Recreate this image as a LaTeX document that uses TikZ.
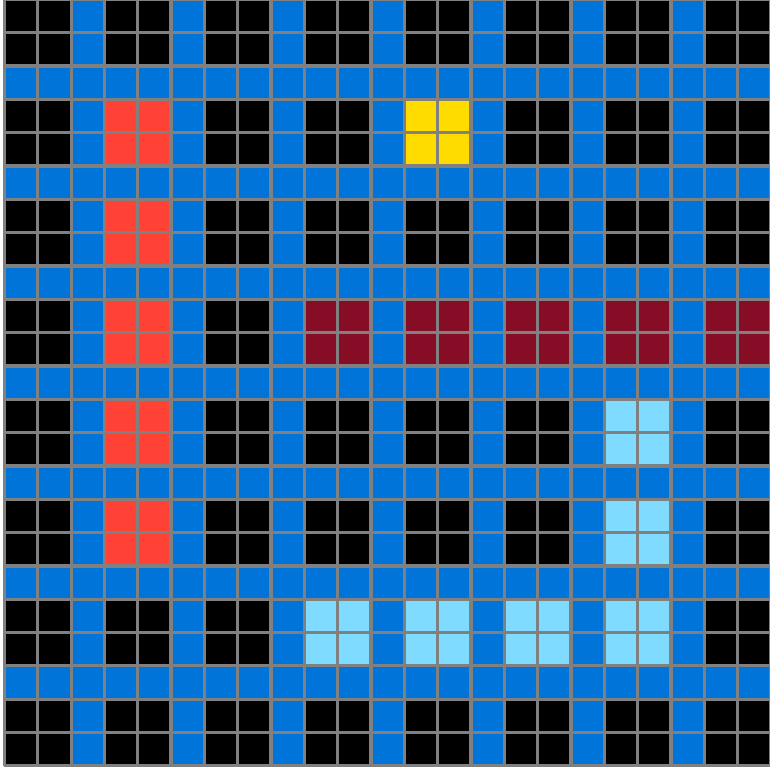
\documentclass[tikz,border=0pt]{standalone}
\usepackage{tikz}

\definecolor{arcblue}{HTML}{0074D9}
\definecolor{arcred}{HTML}{FF4136}
\definecolor{arcyellow}{HTML}{FFDC00}
\definecolor{arcmaroon}{HTML}{870C25}
\definecolor{arcteal}{HTML}{7FDBFF}
\definecolor{gridgray}{HTML}{808080}

% one 2x2 block, counted in blocks from the top left
\newcommand{\cellblock}[3]{\fill[#3] ({3*#1},{21-3*#2}) rectangle ++(2,2);}

\begin{document}
\begin{tikzpicture}[x=0.5cm,y=0.5cm]

    \useasboundingbox (-0.135,-0.12) rectangle (22.97,22.98);

    % Background
    \fill[black] (0,0) rectangle (23,23);

    % Blue bands
    \foreach \k in {2,5,...,20} {
        \fill[arcblue] (\k,0) rectangle ++(1,23);
        \fill[arcblue] (0,\k) rectangle ++(23,1);
    }

    % Coloured blocks
    \foreach \j in {1,...,5} {\cellblock{1}{\j}{arcred}}
    \cellblock{4}{1}{arcyellow}
    \foreach \i in {3,...,7} {\cellblock{\i}{3}{arcmaroon}}
    \cellblock{6}{4}{arcteal}
    \cellblock{6}{5}{arcteal}
    \foreach \i in {3,...,6} {\cellblock{\i}{6}{arcteal}}

    % Grid
    \foreach \k in {0,...,23} {
        \draw[gridgray, line width=1.4pt] (\k,0) -- (\k,23);
        \draw[gridgray, line width=1.4pt] (0,\k) -- (23,\k);
    }

\end{tikzpicture}
\end{document}
